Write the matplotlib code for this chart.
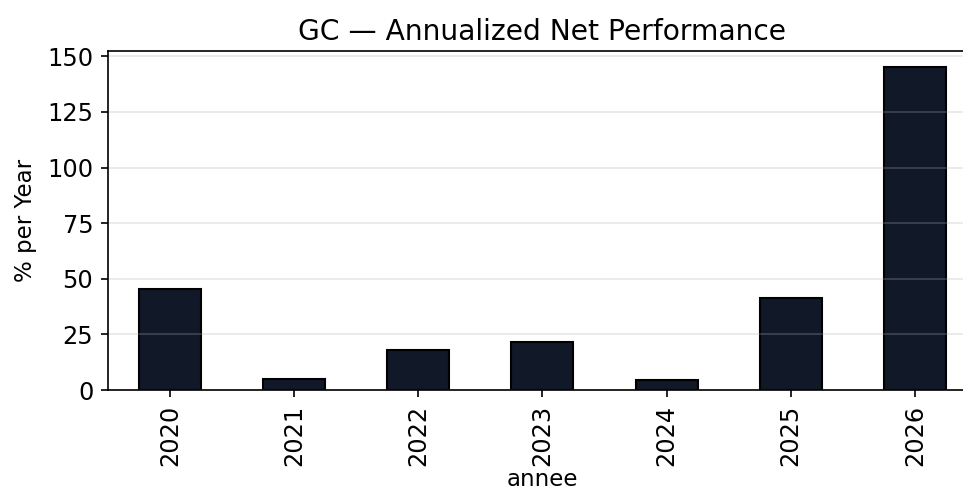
from matplotlib import pyplot as plt
from matplotlib.ticker import MultipleLocator
import pandas as pd

years = ['2020', '2021', '2022', '2023', '2024', '2025', '2026']
perf = [45.4, 4.9, 17.9, 21.6, 4.5, 41.3, 145.3]

plt.rcParams['font.size'] = 11

df = pd.DataFrame({'perf': perf}, index=pd.Index(years, name='annee'))

fig = plt.figure(figsize=(6.42, 3.2867), dpi=150)
# axes run a little past the right edge, like the cropped original
ax = fig.add_axes([0.1121, 0.2089, 0.9024, 0.6883])

df['perf'].plot.bar(ax=ax, color='#111827', edgecolor='black', linewidth=1)
ax.yaxis.set_major_locator(MultipleLocator(25))
ax.tick_params(labelsize=11.5)
ax.grid(axis='y', alpha=0.3)
ax.set_title('GC \u2014 Annualized Net Performance', fontsize=13.5, pad=5)
ax.set_ylabel('% per Year', labelpad=5)
ax.set_xlabel('annee', labelpad=1)

fig.savefig('out.png', dpi=150)
